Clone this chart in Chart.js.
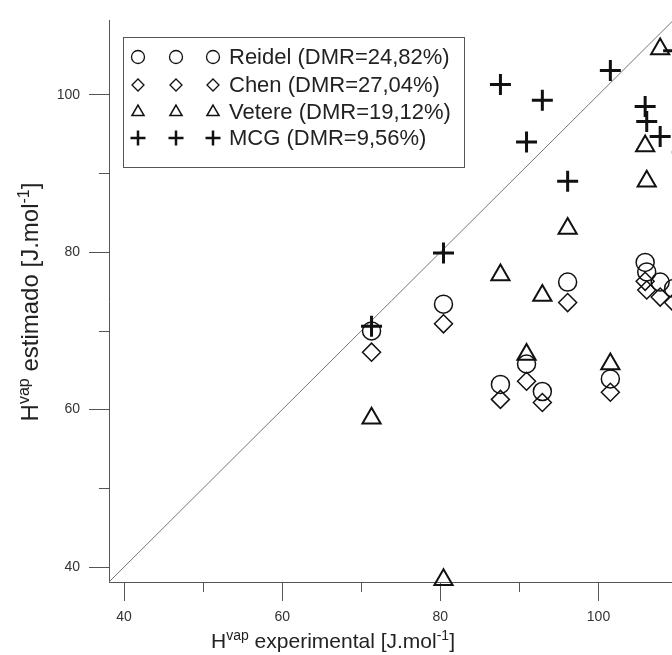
<!DOCTYPE html>
<html>
<head>
<meta charset="utf-8">
<script src="https://cdn.jsdelivr.net/npm/chart.js@4.4.0/dist/chart.umd.min.js"></script>
<style>
  html, body { margin: 0; padding: 0; background: #fff; overflow: hidden; width: 672px; height: 655px; }
  #wrap { position: relative; width: 714px; height: 655px; }
</style>
</head>
<body>
<div id="wrap"><canvas id="chart" width="714" height="655"></canvas></div>
<script>
// Hvap experimental vs estimated, one entry per compound
const hvapExp  = [71.3, 80.4, 87.6, 90.9, 92.9, 96.1, 101.5, 105.9, 106.1, 107.8, 109.5, 110.6];
const reidel   = [70.0, 73.4, 63.2, 65.8, 62.3, 76.2, 63.9, 78.7, 77.5, 76.2, 75.4, null];
const chen     = [67.3, 70.9, 61.3, 63.6, 60.9, 73.6, 62.2, 76.3, 75.2, 74.3, 73.6, null];
const vetere   = [58.9, 38.4, 77.1, 67.0, 74.5, 83.0, 65.8, 93.5, 89.0, 105.8, null, null];
const mcg      = [70.6, 79.9, 101.3, 94.0, 99.3, 89.0, 103.1, 98.5, 96.6, 94.7, 105.6, 92.7];
const identity = [30, 120];

const seriesLabels = ['Reidel (DMR=24,82%)', 'Chen (DMR=27,04%)', 'Vetere (DMR=19,12%)', 'MCG (DMR=9,56%)'];
const xTicks = [40, 60, 80, 100];
const yTicks = [40, 60, 80, 100];

const FONT = "'Liberation Sans', Arial, sans-serif";
const INK = '#111';
const AXIS = '#555';

const pts = ys => hvapExp.map((x, i) => ({ x, y: ys[i] })).filter(p => p.y !== null);

const markerStyles = [
  { pointStyle: 'circle',  pointRadius: 9,    pointBorderWidth: 1.5, legendRadius: 6.5, legendWidth: 1.3 },
  { pointStyle: 'rectRot', pointRadius: 9,    pointBorderWidth: 1.5, legendRadius: 6,   legendWidth: 1.3 },
  { pointStyle: 'triangle',pointRadius: 10.5, pointBorderWidth: 2,   legendRadius: 7,   legendWidth: 1.5 },
  { pointStyle: 'cross',   pointRadius: 10.5, pointBorderWidth: 3,   legendRadius: 7.5, legendWidth: 2.5 },
];
const seriesData = [reidel, chen, vetere, mcg];

// ── plugin: minor ticks (short) ──
const minorTicks = {
  id: 'minorTicks',
  afterDraw(chart) {
    const { ctx, chartArea, scales } = chart;
    ctx.save();
    ctx.strokeStyle = AXIS;
    ctx.lineWidth = 1;
    for (let v = 50; v <= 110; v += 20) {
      const px = scales.x.getPixelForValue(v);
      if (px >= chartArea.left && px <= chartArea.right) {
        ctx.beginPath();
        ctx.moveTo(Math.round(px) + 0.5, chartArea.bottom);
        ctx.lineTo(Math.round(px) + 0.5, chartArea.bottom + 10);
        ctx.stroke();
      }
      const py = scales.y.getPixelForValue(v);
      if (py >= chartArea.top && py <= chartArea.bottom) {
        ctx.beginPath();
        ctx.moveTo(chartArea.left, Math.round(py) + 0.5);
        ctx.lineTo(chartArea.left - 10, Math.round(py) + 0.5);
        ctx.stroke();
      }
    }
    ctx.restore();
  }
};

// text with superscripts, centred on (cx, cy)
function drawRich(ctx, parts, cx, cy, size, rotate) {
  const supSize = Math.round(size * 0.66);
  ctx.save();
  ctx.translate(cx, cy);
  if (rotate) ctx.rotate(-Math.PI / 2);
  let total = 0;
  for (const p of parts) {
    ctx.font = `${p.sup ? supSize : size}px ${FONT}`;
    p.w = ctx.measureText(p.t).width;
    total += p.w;
  }
  let x = -total / 2;
  ctx.fillStyle = '#222';
  ctx.textBaseline = 'alphabetic';
  ctx.textAlign = 'left';
  for (const p of parts) {
    ctx.font = `${p.sup ? supSize : size}px ${FONT}`;
    ctx.fillText(p.t, x, size * 0.36 - (p.sup ? size * 0.38 : 0));
    x += p.w;
  }
  ctx.restore();
}

const axisTitles = {
  id: 'axisTitles',
  afterDraw(chart) {
    const { ctx } = chart;
    drawRich(ctx, [{ t: 'H' }, { t: 'vap', sup: true }, { t: ' experimental [J.mol' }, { t: '-1', sup: true }, { t: ']' }], 333, 640, 21, false);
    drawRich(ctx, [{ t: 'H' }, { t: 'vap', sup: true }, { t: ' estimado [J.mol' }, { t: '-1', sup: true }, { t: ']' }], 29, 302, 24, true);
  }
};

// Origin-style legend: three symbols per row
const boxLegend = {
  id: 'boxLegend',
  afterDraw(chart) {
    const { ctx } = chart;
    const box = { x: 123, y: 37, w: 341, h: 130 };
    ctx.save();
    ctx.fillStyle = '#fff';
    ctx.fillRect(box.x, box.y, box.w, box.h);
    ctx.strokeStyle = AXIS;
    ctx.lineWidth = 1;
    ctx.strokeRect(box.x + 0.5, box.y + 0.5, box.w, box.h);
    const rowY = [57, 85, 112, 138];
    seriesLabels.forEach((label, i) => {
      const m = markerStyles[i];
      ctx.strokeStyle = INK;
      ctx.fillStyle = 'rgba(0,0,0,0)';
      ctx.lineWidth = m.legendWidth;
      for (const mx of [138, 176, 213]) {
        Chart.helpers.drawPoint(ctx, { pointStyle: m.pointStyle, radius: m.legendRadius, rotation: 0, borderWidth: m.legendWidth }, mx, rowY[i]);
      }
      ctx.fillStyle = '#222';
      ctx.font = `22px ${FONT}`;
      ctx.textBaseline = 'middle';
      ctx.textAlign = 'left';
      ctx.fillText(label, 229, rowY[i] + 1);
    });
    ctx.restore();
  }
};

const datasets = seriesLabels.map((label, i) => ({
  type: 'scatter',
  label,
  data: pts(seriesData[i]),
  pointStyle: markerStyles[i].pointStyle,
  pointRadius: markerStyles[i].pointRadius,
  pointBorderWidth: markerStyles[i].pointBorderWidth,
  pointBorderColor: INK,
  pointBackgroundColor: 'rgba(0,0,0,0)',
  borderColor: INK,
  backgroundColor: 'rgba(0,0,0,0)',
  clip: false,
}));

datasets.push({
  type: 'line',
  label: '1:1',
  data: identity.map(v => ({ x: v, y: v })),
  borderColor: '#777',
  borderWidth: 1,
  pointRadius: 0,
  fill: false,
});

const tickMajor = v => v % 20 === 0;

new Chart(document.getElementById('chart'), {
  type: 'scatter',
  data: { datasets },
  options: {
    responsive: false,
    animation: false,
    events: [],
    layout: { padding: { left: 0, right: 0, top: 20, bottom: 0 } },
    plugins: { legend: { display: false }, tooltip: { enabled: false } },
    scales: {
      x: {
        type: 'linear',
        min: 38.1,
        max: 112.9,
        afterFit: s => { s.height = 73; },
        border: { display: true, color: AXIS, width: 1 },
        grid: {
          drawOnChartArea: false,
          tickLength: 19,
          tickColor: c => (c.tick && tickMajor(c.tick.value)) ? AXIS : 'rgba(0,0,0,0)',
        },
        ticks: {
          stepSize: 20,
          includeBounds: false,
          maxRotation: 0,
          autoSkip: false,
          padding: 8,
          color: '#333',
          font: { size: 14, family: FONT },
          callback: v => xTicks.includes(v) ? String(v) : '',
        },
      },
      y: {
        type: 'linear',
        min: 38.1,
        max: 109.5,
        afterFit: s => { s.width = 109; },
        border: { display: true, color: AXIS, width: 1 },
        grid: {
          drawOnChartArea: false,
          tickLength: 20,
          tickColor: c => (c.tick && tickMajor(c.tick.value)) ? AXIS : 'rgba(0,0,0,0)',
        },
        ticks: {
          stepSize: 20,
          includeBounds: false,
          autoSkip: false,
          padding: 9,
          color: '#333',
          font: { size: 14, family: FONT },
          callback: v => yTicks.includes(v) ? String(v) : '',
        },
      },
    },
  },
  plugins: [minorTicks, axisTitles, boxLegend],
});
</script>
</body>
</html>
